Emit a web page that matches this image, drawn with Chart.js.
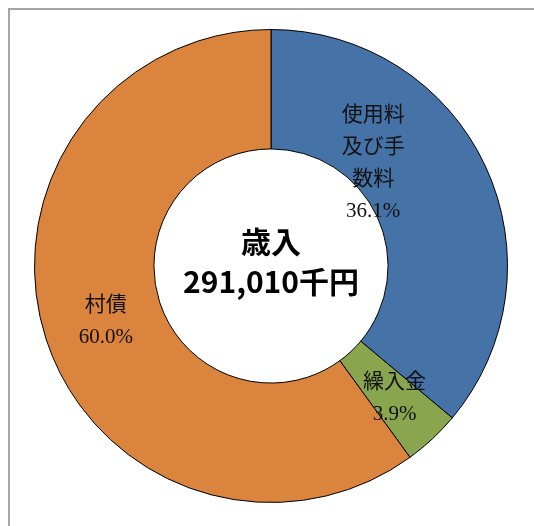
<!DOCTYPE html>
<html lang="ja">
<head>
  <meta charset="UTF-8">
  <title>歳入</title>
  <script src="https://cdn.jsdelivr.net/npm/chart.js@4.4.1/dist/chart.umd.min.js"></script>
  <style>
    html, body { margin: 0; padding: 0; background: #fff; }
  </style>
</head>
<body>
<canvas id="cChart" width="534" height="526"></canvas>
<script>
// 歳入の内訳（千円）
const categories = ['使用料及び手数料', '繰入金', '村債'];
const labelLines = [['使用料', '及び手', '数料'], ['繰入金'], ['村債']];
const values = [105055, 11349, 174606];
const percents = ['36.1%', '3.9%', '60.0%'];
const centerTitle = '歳入';
const centerTotal = '291,010千円';

const colors = ['#4572A7', '#89A54E', '#DB843D'];

// 枠線
const framePlugin = {
  id: 'frame',
  beforeDraw(chart) {
    const ctx = chart.ctx;
    ctx.save();
    ctx.strokeStyle = '#a6a6a6';
    ctx.lineWidth = 2;
    ctx.strokeRect(9, 9, 1000, 1000);
    ctx.restore();
  }
};

// 中央の文字
const centerPlugin = {
  id: 'centerText',
  afterDraw(chart) {
    const meta = chart.getDatasetMeta(0);
    const arc = meta.data[0];
    const ctx = chart.ctx;
    ctx.save();
    ctx.fillStyle = '#000';
    ctx.textAlign = 'center';
    ctx.textBaseline = 'middle';
    ctx.font = 'bold 30px "Noto Sans CJK JP"';
    ctx.fillText(centerTitle, arc.x, arc.y - 24);
    ctx.fillText(centerTotal, arc.x, arc.y + 16);
    ctx.restore();
  }
};

// データラベル
const labelOffsets = [[-58, -28], [3, 3], [3, 1]];
const labelPlugin = {
  id: 'sliceLabels',
  afterDatasetsDraw(chart) {
    const meta = chart.getDatasetMeta(0);
    const ctx = chart.ctx;
    const lh = 32;
    ctx.save();
    ctx.fillStyle = '#111';
    ctx.textAlign = 'center';
    ctx.textBaseline = 'middle';
    ctx.font = '21px "Liberation Serif", "Noto Sans CJK JP"';
    meta.data.forEach((arc, i) => {
      const p = arc.tooltipPosition();
      const lines = labelLines[i].concat([percents[i]]);
      const x = p.x + labelOffsets[i][0];
      const y0 = p.y + labelOffsets[i][1] - (lines.length - 1) * lh / 2;
      lines.forEach((t, j) => ctx.fillText(t, x, y0 + j * lh));
    });
    ctx.restore();
  }
};

const data = {
  labels: categories,
  datasets: [{
    data: values,
    backgroundColor: colors,
    borderColor: '#000',
    borderWidth: 1
  }]
};

const config = {
  type: 'doughnut',
  data: data,
  options: {
    responsive: false,
    animation: false,
    cutout: '49.5%',
    layout: { padding: { left: 34, right: 26, top: 29, bottom: 23 } },
    plugins: {
      legend: { display: false },
      tooltip: { enabled: false }
    }
  },
  plugins: [framePlugin, labelPlugin, centerPlugin]
};

const cChart = new Chart(document.getElementById('cChart'), config);
</script>
</body>
</html>
